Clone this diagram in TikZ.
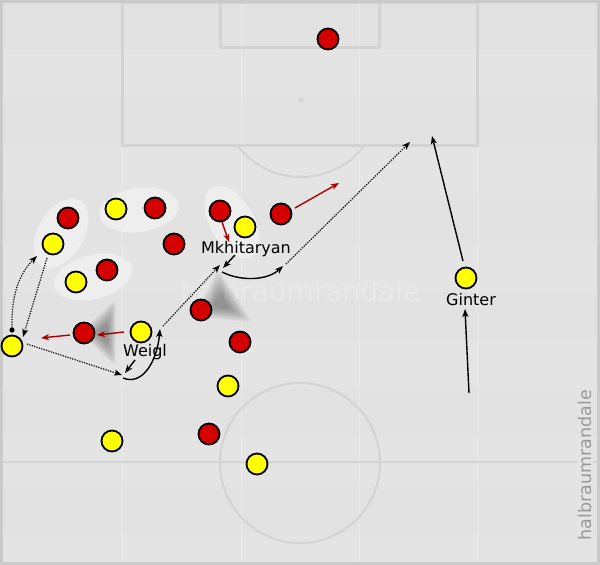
\documentclass[tikz,border=0pt]{standalone}
\usepackage{fontspec}
\setmainfont{DejaVu Sans}
\usetikzlibrary{arrows.meta}
\definecolor{bg}{HTML}{E4E4E4}
\definecolor{bandA}{HTML}{E2E2E2}
\definecolor{pline}{HTML}{D3D3D3}
\definecolor{frame}{HTML}{CACACA}
\definecolor{zone}{HTML}{EEEEEE}
\definecolor{redp}{HTML}{D40000}
\definecolor{yelp}{HTML}{FFFF00}
\definecolor{redarr}{HTML}{AA0000}
\definecolor{wmark}{HTML}{E9E9E9}
\definecolor{wmark2}{HTML}{999999}
\begin{document}
\begin{tikzpicture}[x=1pt,y=-1pt,
  pitchline/.style={draw=pline,line width=3pt},
  pitchthin/.style={draw=pline,line width=2pt},
  player/.style={circle,draw=black,line width=1.8pt,minimum size=21pt,inner sep=0pt},
  redplayer/.style={player,fill=redp},
  yelplayer/.style={player,fill=yelp},
  zonefill/.style={fill=zone},
  shadowtri/.style={fill=black,opacity=0.026,rounded corners=5pt},
  tip/.style={-{Stealth[length=8pt,width=6pt,inset=2pt]}},
  runarrow/.style={tip,line width=1.4pt,black},
  passarrow/.style={tip,line width=1.2pt,black,dash pattern=on 1.2pt off 1.3pt},
  redarrow/.style={tip,line width=1.4pt,redarr},
  lbl/.style={font=\fontsize{16}{19}\selectfont,anchor=base,inner sep=0pt}]
\useasboundingbox (0,0) rectangle (600,565);
% background
\fill[bg] (0,0) rectangle (600,565);
\foreach \i in {0,2,4,6,8,10}
  \fill[bandA] (0,{\i*48.6}) rectangle (600,{(\i+1)*48.6});
\foreach \xx in {122,241,359,477}
  \draw[white,opacity=0.2,line width=1pt] (\xx,0) -- (\xx,565);
% pitch
\draw[pitchline] (122,2) rectangle (477,145);
\draw[pitchline] (220,2) rectangle (379,47);
\fill[pline] (301,100) circle (2.6);
\begin{scope}
  \clip (0,146.5) rectangle (600,565);
  \draw[pitchthin] (301,97) circle (80);
\end{scope}
\draw[pitchthin] (0,462) -- (600,462);
\draw[pitchthin] (300,463) circle (80);
\draw[draw=frame,line width=3pt] (1.5,1.5) rectangle (598.5,563.5);
% watermarks
\node[font=\fontsize{28}{32}\selectfont,text=wmark] (wm) at (300,291) {halbraumrandale};
\node[font=\fontsize{17.5}{20}\selectfont,text=wmark2,rotate=90,fill=bg,inner sep=1pt] (wm2) at (585,465) {halbraumrandale};
% zones
\fill[zonefill,rotate around={60:(61,233)}] (61,233) ellipse (38 and 23);
\fill[zonefill,rotate around={8:(139,210)}] (139,210) ellipse (40 and 22);
\fill[zonefill,rotate around={14:(93,277)}] (93,277) ellipse (40 and 22);
\fill[zonefill,rotate around={-60:(232,222)}] (232,222) ellipse (40 and 22);
% cover shadows (soft)
\foreach \s in {1.5,1.42,1.34,1.26,1.18,1.1,1.02,0.94,0.86,0.78,0.7,0.62,0.54,0.46}{
  \fill[shadowtri,scale around={\s:(104,333)}] (88,333) -- (112,310) -- (112,356) -- cycle;
  \fill[shadowtri,scale around={\s:(221,303)}] (219,280) -- (203,312) -- (242,316) -- cycle;
}
% players
\node[redplayer] (r1) at (328,39) {};
\node[redplayer] (r2) at (68,218) {};
\node[redplayer] (r3) at (155,208) {};
\node[redplayer] (r4) at (174,244) {};
\node[redplayer] (r5) at (107,270) {};
\node[redplayer] (r6) at (220,211) {};
\node[redplayer] (r7) at (281,214) {};
\node[redplayer] (r8) at (84,333) {};
\node[redplayer] (r9) at (201,310) {};
\node[redplayer] (r10) at (240,342) {};
\node[redplayer] (r11) at (209,434) {};
\node[yelplayer] (y1) at (116,209) {};
\node[yelplayer] (y2) at (53,244) {};
\node[yelplayer] (y3) at (76,282) {};
\node[yelplayer] (y4) at (245,227) {};
\node[yelplayer] (y5) at (12,346) {};
\node[yelplayer] (weigl) at (141,332) {};
\node[yelplayer] (y7) at (228,386) {};
\node[yelplayer] (y8) at (112,441) {};
\node[yelplayer] (y9) at (257,464) {};
\node[yelplayer] (ginter) at (466,278) {};
% labels
\node[lbl] (lm) at (246,253) {Mkhitaryan};
\node[lbl] (lw) at (145,356) {Weigl};
\node[lbl] (lg) at (471,305) {Ginter};
% coordinates for connectors
\coordinate (dot) at (12,330);
\coordinate (c1e) at (37,256);
\coordinate (c2s) at (47,258);
\coordinate (c2e) at (23,337);
\coordinate (c3s) at (27,344);
\coordinate (ball1) at (122,375);
\coordinate (w1s) at (135,360);
\coordinate (w1e) at (125,373);
\coordinate (w2s) at (123,378);
\coordinate (w2e) at (160,329);
\coordinate (p1s) at (163,326);
\coordinate (p1e) at (220,265);
\coordinate (m1s) at (235,255);
\coordinate (m1e) at (223,268);
\coordinate (m2s) at (222,272);
\coordinate (m2e) at (283,266);
\coordinate (p2s) at (286,264);
\coordinate (p2e) at (410,142);
\coordinate (g1s) at (469,393);
\coordinate (g1e) at (465,309);
\coordinate (g2s) at (463,261);
\coordinate (g2e) at (432,136);
\coordinate (ra1s) at (70,335);
\coordinate (ra1e) at (41,338);
\coordinate (ra2s) at (124,332);
\coordinate (ra2e) at (97,335);
\coordinate (ra3s) at (222,222);
\coordinate (ra3e) at (229,242);
\coordinate (ra4s) at (295,208);
\coordinate (ra4e) at (339,183);
% passes and runs
\fill[black] (dot) circle (2.6);
\draw[passarrow] (dot) .. controls (11,300) and (17,276) .. (c1e);
\draw[passarrow] (c2s) -- (c2e);
\draw[passarrow] (c3s) -- (ball1);
\draw[runarrow] (w1s) -- (w1e);
\draw[runarrow] (w2s) .. controls (142,386) and (157,362) .. (w2e);
\draw[passarrow] (p1s) -- (p1e);
\draw[runarrow] (m1s) -- (m1e);
\draw[runarrow] (m2s) .. controls (242,282) and (268,280) .. (m2e);
\draw[passarrow] (p2s) -- (p2e);
\draw[runarrow] (g1s) -- (g1e);
\draw[runarrow] (g2s) -- (g2e);
% red arrows
\draw[redarrow] (ra1s) -- (ra1e);
\draw[redarrow] (ra2s) -- (ra2e);
\draw[redarrow] (ra3s) -- (ra3e);
\draw[redarrow] (ra4s) -- (ra4e);
\end{tikzpicture}
\end{document}
